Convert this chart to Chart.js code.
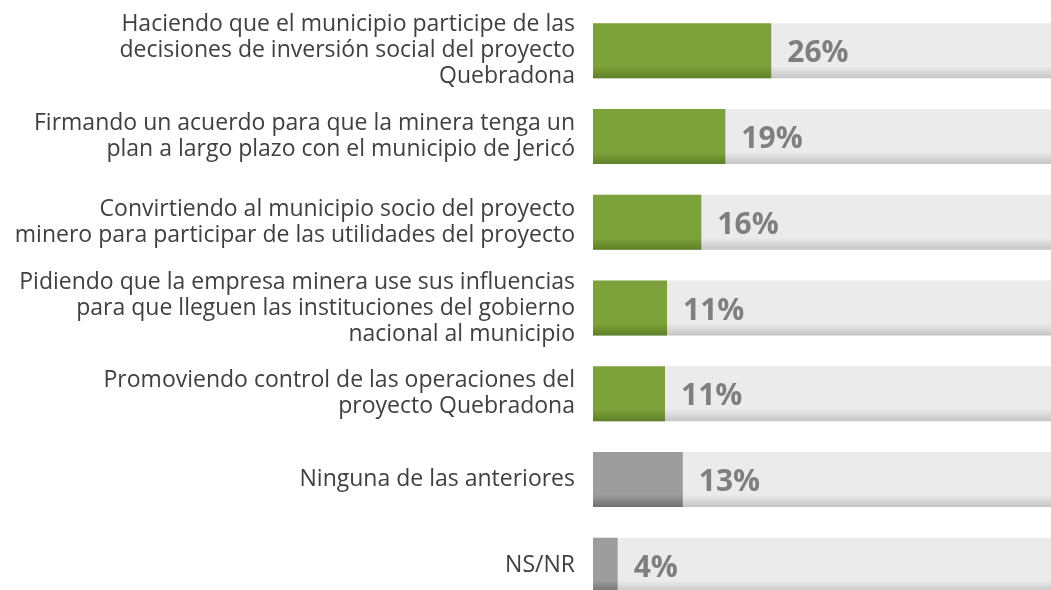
<!DOCTYPE html>
<html>
<head>
<meta charset="utf-8">
<script src="https://cdn.jsdelivr.net/npm/chart.js@4"></script>
<style>
  html, body { margin: 0; padding: 0; background: #fff; overflow: hidden; }
  #wrap { width: 1051px; height: 608px; position: relative; }
</style>
</head>
<body>
<div id="wrap"><canvas id="chart"></canvas></div>
<script>
// categorias (etiquetas multilinea)
const categories = [
  ["Haciendo que el municipio participe de las", "decisiones de inversión social del proyecto", "Quebradona"],
  ["Firmando un acuerdo para que la minera tenga un", "plan a largo plazo con el municipio de Jericó"],
  ["Convirtiendo al municipio socio del proyecto", "minero para participar de las utilidades del proyecto"],
  ["Pidiendo que la empresa minera use sus influencias", "para que lleguen las instituciones del gobierno", "nacional al municipio"],
  ["Promoviendo control de las operaciones del", "proyecto Quebradona"],
  ["Ninguna de las anteriores"],
  ["NS/NR"]
];
const values = [26, 19.3, 15.8, 10.8, 10.5, 13.1, 3.6];
const isOther = [false, false, false, false, false, true, true];
const axisMax = 66.8;
const track = categories.map(() => axisMax);

const BAR_PCT = 0.642;

function barGradient(ctx, top, bottom) {
  const chart = ctx.chart;
  const yScale = chart.scales.y;
  if (!yScale || yScale.top == null) return top;
  const c = yScale.getPixelForValue(ctx.dataIndex);
  const band = (yScale.bottom - yScale.top) / categories.length;
  const h = band * BAR_PCT;
  const g = chart.ctx.createLinearGradient(0, c - h / 2, 0, c + h / 2);
  g.addColorStop(0, top);
  g.addColorStop(0.78, top);
  g.addColorStop(1, bottom);
  return g;
}

const valueLabels = {
  id: 'valueLabels',
  afterDatasetsDraw(chart) {
    const ctx = chart.ctx;
    const meta = chart.getDatasetMeta(0);
    ctx.save();
    ctx.font = 'bold 30px "Open Sans", sans-serif';
    ctx.fillStyle = '#7f7f7f';
    ctx.textAlign = 'left';
    ctx.textBaseline = 'middle';
    meta.data.forEach((bar, i) => {
      ctx.fillText(Math.round(values[i]) + '%', bar.x + 16, bar.y + 3);
    });
    ctx.restore();
  }
};

new Chart(document.getElementById('chart'), {
  type: 'bar',
  data: {
    labels: categories,
    datasets: [
      {
        data: values,
        grouped: false,
        categoryPercentage: 1,
        barPercentage: BAR_PCT,
        borderWidth: 0,
        backgroundColor: ctx => isOther[ctx.dataIndex]
          ? barGradient(ctx, '#9d9d9d', '#6f6f6f')
          : barGradient(ctx, '#7ea23b', '#5f7f27')
      },
      {
        data: track,
        grouped: false,
        categoryPercentage: 1,
        barPercentage: BAR_PCT,
        borderWidth: 0,
        backgroundColor: ctx => barGradient(ctx, '#ebebeb', '#c4c4c4')
      }
    ]
  },
  options: {
    indexAxis: 'y',
    responsive: true,
    maintainAspectRatio: false,
    animation: false,
    layout: { padding: { top: 8, bottom: 0, left: 0, right: 0 } },
    plugins: {
      legend: { display: false },
      tooltip: { enabled: false }
    },
    scales: {
      x: {
        min: 0,
        max: axisMax,
        display: false
      },
      y: {
        grid: { display: false },
        border: { display: false },
        ticks: {
          color: '#404040',
          padding: 10,
          font: { family: '"Open Sans", sans-serif', size: 23, lineHeight: 1.13 },
          autoSkip: false
        },
        afterFit(axis) {
          axis.width = 593;
          axis.paddingTop = 0;
          axis.paddingBottom = 0;
        }
      }
    }
  },
  plugins: [valueLabels]
});
</script>
</body>
</html>
